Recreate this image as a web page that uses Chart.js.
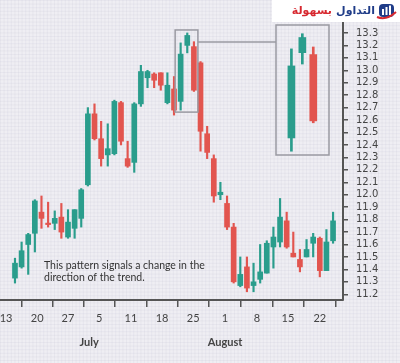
<!DOCTYPE html>
<html lang="en">
<head>
<meta charset="UTF-8">
<title>Candlestick reversal pattern</title>
<script src="https://cdn.jsdelivr.net/npm/chart.js"></script>
<style>
  html, body { margin: 0; padding: 0; background: #efeef3; }
  #wrap { position: relative; width: 400px; height: 363px; }
  #main { position: absolute; left: 0; top: 0; }
  #inset { position: absolute; left: 276px; top: 25px; }
</style>
</head>
<body>
<div id="wrap">
  <canvas id="main" width="400" height="363"></canvas>
  <canvas id="inset" width="53" height="130"></canvas>
</div>
<script>
// one candle per trading day
const opens  = [11.33, 11.42, 11.60, 11.69, 11.86, 11.77, 11.77, 11.82, 11.66, 11.73, 11.81, 12.08, 12.65, 12.45, 12.32, 12.33, 12.74, 12.29, 12.26, 12.73, 12.94, 12.97, 12.98, 12.74, 12.85, 12.75, 13.20, 13.19, 13.06, 12.49, 12.29, 12.00, 11.93, 11.74, 11.27, 11.42, 11.27, 11.32, 11.37, 11.58, 11.62, 11.79, 11.53, 11.48, 11.50, 11.61, 11.65, 11.39, 11.63];
const closes = [11.45, 11.55, 11.68, 11.95, 11.81, 11.76, 11.81, 11.70, 11.78, 11.88, 12.04, 12.65, 12.45, 12.29, 12.37, 12.75, 12.43, 12.23, 12.73, 12.99, 12.99, 12.92, 12.88, 12.88, 12.68, 13.13, 13.28, 12.84, 12.51, 12.34, 11.99, 12.02, 11.74, 11.30, 11.36, 11.25, 11.30, 11.38, 11.61, 11.66, 11.82, 11.58, 11.50, 11.42, 11.56, 11.66, 11.39, 11.62, 11.79];
const highs  = [11.49, 11.62, 11.69, 11.96, 11.99, 11.94, 11.87, 11.93, 11.88, 11.88, 12.05, 12.70, 12.73, 12.59, 12.57, 12.76, 12.75, 12.43, 12.74, 13.04, 13.00, 12.98, 12.98, 12.98, 12.95, 13.22, 13.30, 13.23, 13.07, 12.55, 12.32, 12.10, 11.99, 11.77, 11.50, 11.50, 11.45, 11.60, 11.63, 11.74, 11.97, 11.86, 11.70, 11.56, 11.64, 11.69, 11.66, 11.72, 11.86];
const lows   = [11.29, 11.41, 11.36, 11.54, 11.73, 11.74, 11.72, 11.65, 11.65, 11.65, 11.74, 12.07, 12.44, 12.23, 12.23, 12.32, 12.40, 12.22, 12.18, 12.71, 12.86, 12.86, 12.84, 12.73, 12.64, 12.68, 13.14, 12.83, 12.35, 12.29, 11.94, 11.96, 11.72, 11.29, 11.26, 11.22, 11.22, 11.29, 11.37, 11.41, 11.58, 11.57, 11.50, 11.38, 11.50, 11.50, 11.34, 11.39, 11.61];

const xTickLabels = ['13', '20', '27', '5', '11', '18', '25', '1', '8', '15', '22'];
const xTickAt     = [-1.35, 3.35, 8.0, 12.7, 17.5, 22.2, 26.9, 31.7, 36.5, 41.2, 46.0];
const monthLabels = ['July', 'August'];
const monthAt     = [11.2, 31.7];
const yTicks = [11.2, 11.3, 11.4, 11.5, 11.6, 11.7, 11.8, 11.9, 12.0, 12.1, 12.2,
                12.3, 12.4, 12.5, 12.6, 12.7, 12.8, 12.9, 13.0, 13.1, 13.2, 13.3];
const patternDays = [25, 26, 27];
const noteLines = ['This pattern signals a change in the', 'direction of the trend.'];

const UP = '#2a9d8c';
const DOWN = '#e2554f';
const AXIS = '#555';
const INSET = { left: 276, top: 25, width: 53, height: 130 };

function candleSets(idx, bodyW, wickW) {
  const col = idx.map(i => closes[i] >= opens[i] ? UP : DOWN);
  return [
    {
      data: idx.map(i => ({ x: i, y: [opens[i], closes[i]] })),
      backgroundColor: col, barThickness: bodyW, grouped: false,
      minBarLength: 1.5, borderWidth: 0, order: 1
    },
    {
      data: idx.map(i => ({ x: i, y: [lows[i], highs[i]] })),
      backgroundColor: col, barThickness: wickW, grouped: false,
      borderWidth: 0, order: 2
    }
  ];
}

const paper = {
  id: 'paper',
  beforeDraw(chart) {
    const ctx = chart.ctx;
    ctx.save();
    ctx.fillStyle = '#efeef3';
    ctx.fillRect(0, 0, chart.width, chart.height);
    ctx.strokeStyle = 'rgba(180,178,200,0.13)';
    ctx.lineWidth = 1;
    ctx.beginPath();
    for (let x = 0.5; x < chart.width; x += 3.6) { ctx.moveTo(x, 0); ctx.lineTo(x, chart.height); }
    for (let y = 0.5; y < chart.height; y += 3.6) { ctx.moveTo(0, y); ctx.lineTo(chart.width, y); }
    ctx.stroke();
    ctx.restore();
  }
};

const extras = {
  id: 'extras',
  afterDraw(chart) {
    const ctx = chart.ctx;
    const xs = chart.scales.x, ys = chart.scales.y;
    ctx.save();

    // box round the pattern and its enlarged view
    const hi = Math.max(...patternDays.map(i => highs[i]));
    const lo = Math.min(...patternDays.map(i => lows[i]));
    const bx0 = xs.getPixelForValue(patternDays[0]) - 5.5;
    const bx1 = xs.getPixelForValue(patternDays[patternDays.length - 1]) + 4;
    const by0 = ys.getPixelForValue(hi) - 3;
    const by1 = ys.getPixelForValue(lo) + 2;
    ctx.strokeStyle = '#9a9aa2';
    ctx.lineWidth = 1.5;
    ctx.strokeRect(bx0, by0, bx1 - bx0, by1 - by0);
    ctx.beginPath();
    ctx.moveTo(bx1, by0 + 12);
    ctx.lineTo(INSET.left, by0 + 12);
    ctx.stroke();
    ctx.strokeRect(INSET.left, INSET.top, INSET.width, INSET.height);

    // note
    ctx.fillStyle = '#333';
    ctx.font = '10.5px Lato';
    ctx.textAlign = 'left';
    ctx.textBaseline = 'middle';
    noteLines.forEach((t, i) => ctx.fillText(t, 44, 266 + i * 11.5));

    // months
    ctx.fillStyle = '#444';
    ctx.font = 'bold 11px Lato';
    ctx.textAlign = 'center';
    monthLabels.forEach((m, i) => ctx.fillText(m, xs.getPixelForValue(monthAt[i]), chart.chartArea.bottom + 42));

    // logo
    ctx.fillStyle = '#fff';
    ctx.fillRect(272, 0, 128, 22);
    ctx.font = 'bold 11px "DejaVu Sans"';
    ctx.textAlign = 'right';
    ctx.fillStyle = '#1f3c88';
    ctx.fillText('التداول', 375, 11);
    ctx.fillStyle = '#d7282f';
    ctx.fillText('بسهولة', 332, 11);
    ctx.fillStyle = '#1f3c88';
    ctx.beginPath();
    ctx.roundRect(379, 4, 15, 13, 4);
    ctx.fill();
    ctx.fillStyle = '#fff';
    ctx.fillRect(382, 9, 2, 6);
    ctx.fillRect(385.5, 7, 2, 8);
    ctx.fillRect(389, 5.5, 2, 9.5);
    ctx.strokeStyle = '#d7282f';
    ctx.lineWidth = 2;
    ctx.beginPath();
    ctx.moveTo(377, 17);
    ctx.quadraticCurveTo(386, 21, 396, 12);
    ctx.stroke();

    ctx.restore();
  }
};

const allDays = opens.map((_, i) => i);

new Chart(document.getElementById('main'), {
  type: 'bar',
  data: { datasets: candleSets(allDays, 5, 1.5) },
  options: {
    responsive: false,
    devicePixelRatio: 1,
    animation: false,
    events: [],
    layout: { padding: { top: 23, left: 0, right: 0, bottom: 0 } },
    plugins: { legend: { display: false }, tooltip: { enabled: false } },
    scales: {
      x: {
        type: 'linear', min: -2.26, max: 49.5, offset: false,
        afterBuildTicks: s => { s.ticks = xTickAt.map(v => ({ value: v })); },
        afterFit: s => { s.height = 63; s.paddingLeft = 0; s.paddingRight = 0; },
        ticks: {
          autoSkip: false, maxRotation: 0, padding: 5, color: '#444',
          font: { family: 'Lato', size: 11 },
          callback: (v, i) => xTickLabels[i]
        },
        grid: { drawOnChartArea: false, drawTicks: true, tickLength: 7, color: AXIS, lineWidth: 1.5 },
        border: { display: true, color: AXIS, width: 2 }
      },
      y: {
        position: 'right', min: 11.154, max: 13.38,
        afterBuildTicks: s => { s.ticks = yTicks.map(v => ({ value: v })); },
        afterFit: s => { s.width = 57; },
        ticks: {
          autoSkip: false, padding: 8, color: '#444',
          font: { family: 'DejaVu Sans', size: 10 },
          callback: v => v.toFixed(1)
        },
        grid: { drawOnChartArea: false, drawTicks: true, tickLength: 5, color: AXIS, lineWidth: 1.5 },
        border: { display: true, color: AXIS, width: 2 }
      }
    }
  },
  plugins: [paper, extras]
});

// enlarged view of the three pattern candles
new Chart(document.getElementById('inset'), {
  type: 'bar',
  data: { datasets: candleSets(patternDays, 7, 2) },
  options: {
    responsive: false,
    devicePixelRatio: 1,
    animation: false,
    events: [],
    layout: { padding: 0 },
    plugins: { legend: { display: false }, tooltip: { enabled: false } },
    scales: {
      x: { type: 'linear', display: false, min: 23.59, max: 28.44, offset: false },
      y: { display: false, min: 12.66, max: 13.346 }
    }
  }
});
</script>
</body>
</html>
